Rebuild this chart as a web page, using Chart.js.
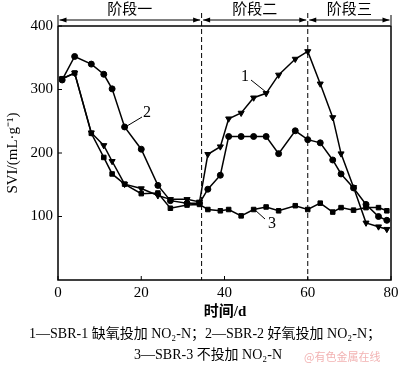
<!DOCTYPE html>
<html>
<head>
<meta charset="utf-8">
<script src="https://cdn.jsdelivr.net/npm/chart.js@4"></script>
<style>
  html, body { margin: 0; padding: 0; background: #fff; }
  #wrap { width: 400px; height: 370px; position: relative; }
</style>
</head>
<body>
<div id="wrap"><canvas id="c" width="400" height="370"></canvas></div>
<script>
// SVI over time for three SBRs
const sbr1Days = [1, 4, 8, 11, 13, 16, 20, 24, 27, 31, 34, 36, 39, 41, 44, 47, 50, 53, 57, 60, 63, 66, 68, 71, 74, 77, 79];
const sbr1Svi  = [317, 326, 232, 212, 187, 151, 144, 133, 127, 127, 123, 198, 210, 254, 263, 287, 294, 323, 348, 360, 309, 256, 199, 146, 90, 84, 80];

const sbr2Days = [1, 4, 8, 11, 13, 16, 20, 24, 27, 31, 34, 36, 39, 41, 44, 47, 50, 53, 57, 60, 63, 66, 68, 71, 74, 77, 79];
const sbr2Svi  = [315, 352, 340, 324, 301, 241, 206, 149, 125, 121, 121, 143, 165, 226, 226, 226, 226, 199, 235, 221, 216, 189, 167, 145, 119, 100, 94];

const sbr3Days = [1, 4, 8, 11, 13, 16, 20, 24, 27, 31, 34, 36, 39, 41, 44, 47, 50, 53, 57, 60, 63, 66, 68, 71, 74, 77, 79];
const sbr3Svi  = [317, 326, 231, 193, 167, 151, 136, 137, 113, 118, 119, 111, 109, 111, 101, 111, 115, 109, 117, 111, 121, 107, 114, 110, 114, 114, 109];

const xTicks = [0, 20, 40, 60, 80];
const yTicks = [100, 200, 300, 400];
const stageBounds = [0, 34.5, 60, 80];
const stageNames = ['阶段一', '阶段二', '阶段三'];

const SERIF = '"Liberation Serif", "Noto Sans CJK SC", serif';

function pts(xs, ys){ return xs.map((x, i) => ({ x, y: ys[i] })); }

function series(label, xs, ys, style, radius, rot){
  return {
    label,
    data: pts(xs, ys),
    borderColor: '#000',
    backgroundColor: '#000',
    borderWidth: 1.5,
    pointStyle: style,
    pointRadius: radius,
    pointRotation: rot || 0,
    pointBorderWidth: 1,
    tension: 0,
  };
}

// frame, ticks, stage brackets, leader labels, captions
const decor = {
  id: 'decor',
  afterDraw(chart){
    const ctx = chart.ctx;
    const xs = chart.scales.x, ys = chart.scales.y;
    const a = chart.chartArea;
    ctx.save();
    ctx.strokeStyle = '#000';
    ctx.fillStyle = '#000';

    // frame
    ctx.lineWidth = 1.5;
    ctx.strokeRect(a.left, a.top, a.right - a.left, a.bottom - a.top);

    // inward ticks
    ctx.lineWidth = 1;
    xTicks.forEach(v => {
      const px = xs.getPixelForValue(v);
      ctx.beginPath(); ctx.moveTo(px, a.bottom); ctx.lineTo(px, a.bottom - 4); ctx.stroke();
    });
    yTicks.forEach(v => {
      const py = ys.getPixelForValue(v);
      ctx.beginPath(); ctx.moveTo(a.left, py); ctx.lineTo(a.left + 4, py); ctx.stroke();
    });

    // dashed stage separators
    ctx.setLineDash([5, 3]);
    ctx.lineWidth = 1;
    [stageBounds[1], stageBounds[2]].forEach(v => {
      const px = xs.getPixelForValue(v);
      ctx.beginPath(); ctx.moveTo(px, 13); ctx.lineTo(px, a.bottom); ctx.stroke();
    });
    ctx.setLineDash([]);

    // stage brackets
    const by = 20;
    ctx.font = '15px "Noto Sans CJK SC", sans-serif';
    ctx.textAlign = 'center';
    ctx.textBaseline = 'middle';
    for(let i = 0; i < 3; i++){
      const x0 = xs.getPixelForValue(stageBounds[i]) + 1.5;
      const x1 = xs.getPixelForValue(stageBounds[i + 1]) - 1.5;
      ctx.beginPath(); ctx.moveTo(x0, by); ctx.lineTo(x1, by); ctx.stroke();
      ctx.beginPath();
      ctx.moveTo(x0, by); ctx.lineTo(x0 + 7, by - 2.5); ctx.lineTo(x0 + 7, by + 2.5); ctx.closePath(); ctx.fill();
      ctx.beginPath();
      ctx.moveTo(x1, by); ctx.lineTo(x1 - 7, by - 2.5); ctx.lineTo(x1 - 7, by + 2.5); ctx.closePath(); ctx.fill();
      ctx.fillText(stageNames[i], (x0 + x1) / 2, 8);
    }
    ctx.beginPath(); ctx.moveTo(a.left, 15); ctx.lineTo(a.left, 25); ctx.stroke();
    ctx.beginPath(); ctx.moveTo(a.right, 15); ctx.lineTo(a.right, 25); ctx.stroke();

    // curve labels
    ctx.font = '16px ' + SERIF;
    ctx.lineWidth = 1;
    const lead = (t, tx, ty, x0, y0, x1, y1) => {
      ctx.fillText(t, tx, ty);
      ctx.beginPath(); ctx.moveTo(x0, y0); ctx.lineTo(x1, y1); ctx.stroke();
    };
    lead('1', 245, 77, 251, 80, 266, 92);
    lead('2', 147, 113, 142, 117, 127, 126);
    lead('3', 272, 224, 265, 219, 255, 210);

    // axis titles
    ctx.font = '15px ' + SERIF;
    ctx.save();
    ctx.translate(13, 153);
    ctx.rotate(-Math.PI / 2);
    ctx.fillText('SVI/(mL·g⁻¹)', 0, 0);
    ctx.restore();

    ctx.font = 'bold 15px ' + SERIF;
    ctx.fillText('时间/d', 225, 312);

    ctx.font = '14px ' + SERIF;
    ctx.fillText('1—SBR-1 缺氧投加 NO₂-N；2—SBR-2 好氧投加 NO₂-N；', 205, 334);
    ctx.fillText('3—SBR-3 不投加 NO₂-N', 208, 355);

    ctx.fillStyle = '#f2b3b3';
    ctx.font = '11px "Noto Sans CJK SC", sans-serif';
    ctx.textAlign = 'left';
    ctx.fillText('@有色金属在线', 304, 357);
    ctx.restore();
  }
};

new Chart(document.getElementById('c').getContext('2d'), {
  type: 'line',
  data: {
    datasets: [
      series('SBR-1', sbr1Days, sbr1Svi, 'triangle', 3.5, 180),
      series('SBR-2', sbr2Days, sbr2Svi, 'circle', 3),
      series('SBR-3', sbr3Days, sbr3Svi, 'rect', 3.2),
    ]
  },
  options: {
    responsive: false,
    animation: false,
    devicePixelRatio: 1,
    layout: { padding: { left: 0, top: 26, right: 0, bottom: 70 } },
    plugins: { legend: { display: false }, tooltip: { enabled: false } },
    scales: {
      x: {
        type: 'linear', min: 0, max: 80,
        afterBuildTicks: s => { s.ticks = xTicks.map(v => ({ value: v })); },
        afterFit: s => { s.height = 20; s.paddingRight = 9; },
        grid: { display: false, drawTicks: false },
        border: { display: false },
        ticks: { color: '#000', font: { family: SERIF, size: 15 }, padding: 4, maxRotation: 0 },
      },
      y: {
        type: 'linear', min: 0, max: 400,
        afterBuildTicks: s => { s.ticks = yTicks.map(v => ({ value: v })); },
        afterFit: s => { s.width = 58; },
        grid: { display: false, drawTicks: false },
        border: { display: false },
        ticks: { color: '#000', font: { family: SERIF, size: 15 }, padding: 5 },
      }
    }
  },
  plugins: [decor]
});
</script>
</body>
</html>
